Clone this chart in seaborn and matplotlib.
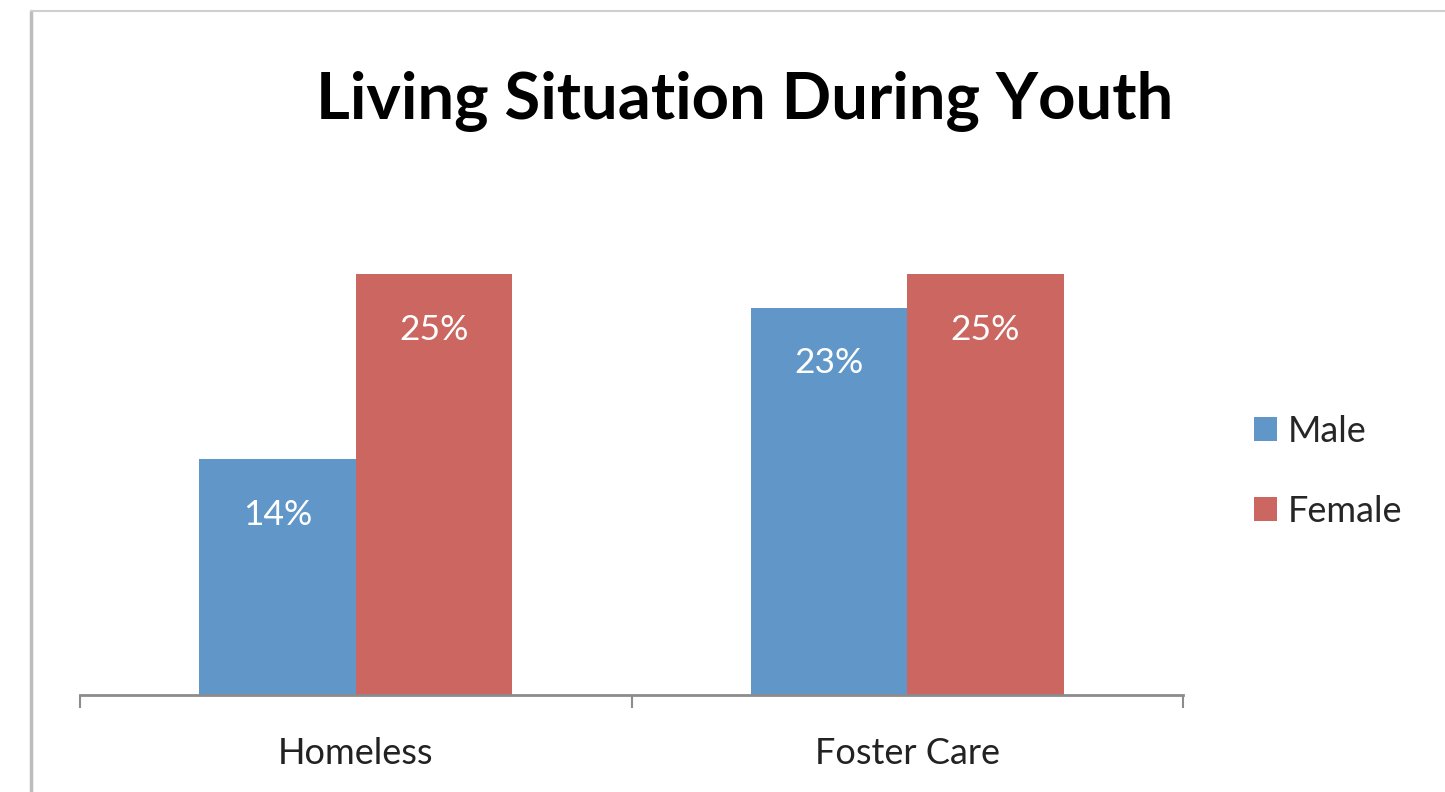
import matplotlib
matplotlib.use("Agg")
import matplotlib.pyplot as plt
from matplotlib.lines import Line2D
import seaborn as sns
import pandas as pd

# Data
categories = ["Homeless", "Foster Care"]
groups = ["Male", "Female"]
male_pct = [14, 23]
female_pct = [25, 25]
colors = ["#6196C9", "#CC6660"]

df = pd.DataFrame({
    "situation": categories * 2,
    "sex": [groups[0]] * len(categories) + [groups[1]] * len(categories),
    "pct": male_pct + female_pct,
})

sns.set_theme(style="white")
plt.rcParams["font.family"] = ["Lato", "DejaVu Sans"]

fig = plt.figure(figsize=(14.45, 7.92), dpi=100)
ax = fig.add_axes([0.0554, 0.1225, 0.8187 - 0.0554, 0.6379])

sns.barplot(data=df, x="situation", y="pct", hue="sex", order=categories,
            hue_order=groups, palette=colors, width=0.567, saturation=1,
            linewidth=0, ax=ax, errorbar=None)

ax.set_xlim(-0.5, 1.5)
ax.set_ylim(0, 30)
ax.set_xlabel("")
ax.set_ylabel("")
ax.set_yticks([])

# Category ticks sit on the boundaries between groups
ax.set_xticks([0, 1])
ax.set_xticklabels(categories, fontsize=26, color="#222222")
ax.set_xticks([-0.5, 0.5, 1.5], minor=True)
ax.tick_params(axis="x", which="major", length=0, pad=30)
ax.tick_params(axis="x", which="minor", length=9, width=1.5, color="#8c8c8c",
               direction="out", bottom=True)

for side in ["left", "top", "right"]:
    ax.spines[side].set_visible(False)
ax.spines["bottom"].set_color("#8c8c8c")
ax.spines["bottom"].set_linewidth(2)

# Value labels inside the bars
for container in ax.containers:
    for bar in container:
        h = bar.get_height()
        ax.annotate(f"{h:.0f}%", (bar.get_x() + bar.get_width() / 2, h),
                    xytext=(0, -40), textcoords="offset points",
                    ha="center", va="center", color="white", fontsize=25.5)

ax.legend_.remove()
handles, labels = ax.get_legend_handles_labels()
fig.legend(handles, labels, loc="center left",
           bbox_to_anchor=(0.868, 0.405), frameon=False, fontsize=26,
           handlelength=0.62, handleheight=0.62, handletextpad=0.3,
           labelspacing=1.3, borderpad=0, borderaxespad=0)

fig.suptitle("Living Situation During Youth", fontsize=47, fontweight="bold",
             x=0.515, y=0.872, va="center", color="black")

# Frame edges of the chart area
fig.add_artist(Line2D([31 / 1445, 31 / 1445], [0, 1 - 11 / 792],
                      transform=fig.transFigure, color="#bdbdbd", lw=2.5))
fig.add_artist(Line2D([31 / 1445, 1], [1 - 11 / 792, 1 - 11 / 792],
                      transform=fig.transFigure, color="#cfcfcf", lw=1.5))

fig.savefig("out.png", dpi=100, facecolor="white")
